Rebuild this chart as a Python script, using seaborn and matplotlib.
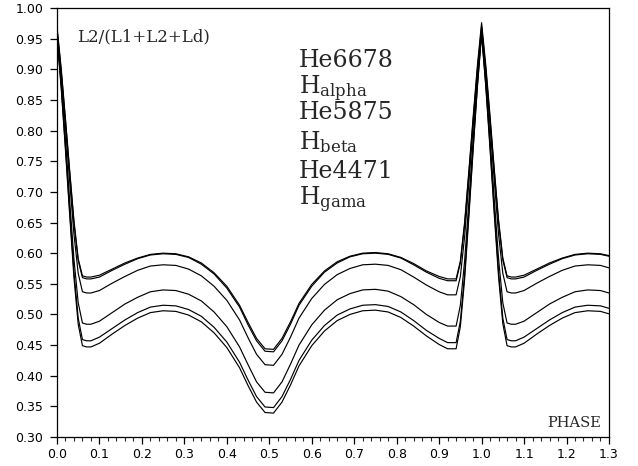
import numpy as np
import pandas as pd
import matplotlib
matplotlib.use("Agg")
import matplotlib.pyplot as plt
from matplotlib.ticker import MultipleLocator, FormatStrFormatter
import seaborn as sns

# Orbital phase samples (denser through the eclipses at phase 0 and 1)
phase = [0.00, 0.01, 0.02, 0.03, 0.04, 0.05, 0.06, 0.07, 0.08, 0.10, 0.13, 0.16,
         0.19, 0.22, 0.25, 0.28, 0.31, 0.34, 0.37, 0.40, 0.43, 0.45, 0.47, 0.49,
         0.51, 0.53, 0.55, 0.57, 0.60, 0.63, 0.66, 0.69, 0.72, 0.75, 0.78, 0.81,
         0.84, 0.87, 0.90, 0.92, 0.94, 0.95, 0.96, 0.97, 0.98, 0.99, 1.00, 1.01,
         1.02, 1.03, 1.04, 1.05, 1.06, 1.07, 1.08, 1.10, 1.13, 1.16, 1.19, 1.22,
         1.25, 1.28, 1.30]

# Fractional light of the secondary, L2/(L1+L2+Ld), per spectral line
he6678 = [0.970, 0.901, 0.819, 0.734, 0.653, 0.591, 0.563, 0.561, 0.561, 0.564, 0.574, 0.584,
          0.592, 0.598, 0.600, 0.599, 0.594, 0.584, 0.568, 0.546, 0.515, 0.487, 0.461, 0.444,
          0.443, 0.461, 0.488, 0.518, 0.549, 0.571, 0.586, 0.595, 0.600, 0.601, 0.599, 0.593,
          0.583, 0.571, 0.562, 0.558, 0.558, 0.587, 0.650, 0.734, 0.821, 0.905, 0.976, 0.906,
          0.823, 0.736, 0.654, 0.592, 0.563, 0.561, 0.561, 0.564, 0.574, 0.584, 0.592, 0.598,
          0.600, 0.599, 0.596]
h_alpha = [0.966, 0.897, 0.816, 0.731, 0.649, 0.588, 0.560, 0.558, 0.558, 0.561, 0.572, 0.582,
           0.591, 0.597, 0.599, 0.598, 0.593, 0.582, 0.566, 0.543, 0.512, 0.483, 0.457, 0.440,
           0.439, 0.457, 0.484, 0.515, 0.546, 0.569, 0.584, 0.594, 0.599, 0.600, 0.598, 0.592,
           0.581, 0.569, 0.559, 0.555, 0.555, 0.584, 0.646, 0.729, 0.816, 0.899, 0.970, 0.900,
           0.818, 0.732, 0.650, 0.589, 0.560, 0.558, 0.558, 0.561, 0.572, 0.582, 0.591, 0.597,
           0.599, 0.598, 0.595]
he5875 = [0.963, 0.891, 0.805, 0.716, 0.631, 0.567, 0.537, 0.535, 0.535, 0.539, 0.551, 0.562,
          0.572, 0.579, 0.581, 0.580, 0.574, 0.563, 0.546, 0.523, 0.491, 0.462, 0.435, 0.418,
          0.417, 0.435, 0.463, 0.494, 0.526, 0.549, 0.565, 0.575, 0.581, 0.582, 0.580, 0.573,
          0.561, 0.548, 0.537, 0.532, 0.532, 0.562, 0.627, 0.714, 0.805, 0.892, 0.966, 0.893,
          0.807, 0.717, 0.631, 0.567, 0.537, 0.535, 0.535, 0.539, 0.551, 0.562, 0.572, 0.579,
          0.581, 0.580, 0.576]
h_beta = [0.960, 0.879, 0.785, 0.685, 0.590, 0.519, 0.486, 0.484, 0.484, 0.489, 0.503, 0.517,
          0.528, 0.537, 0.540, 0.539, 0.533, 0.522, 0.504, 0.480, 0.447, 0.418, 0.390, 0.373,
          0.372, 0.390, 0.419, 0.450, 0.483, 0.507, 0.524, 0.534, 0.540, 0.541, 0.538, 0.529,
          0.516, 0.500, 0.487, 0.481, 0.481, 0.515, 0.587, 0.683, 0.784, 0.880, 0.962, 0.881,
          0.786, 0.686, 0.591, 0.519, 0.486, 0.484, 0.484, 0.489, 0.503, 0.517, 0.528, 0.537,
          0.540, 0.539, 0.535]
he4471 = [0.957, 0.872, 0.773, 0.668, 0.569, 0.494, 0.459, 0.457, 0.457, 0.463, 0.477, 0.491,
          0.503, 0.512, 0.515, 0.514, 0.508, 0.497, 0.479, 0.455, 0.422, 0.393, 0.366, 0.349,
          0.348, 0.366, 0.394, 0.425, 0.458, 0.482, 0.499, 0.509, 0.515, 0.516, 0.513, 0.504,
          0.490, 0.474, 0.461, 0.454, 0.454, 0.489, 0.565, 0.666, 0.772, 0.873, 0.959, 0.874,
          0.774, 0.669, 0.569, 0.494, 0.459, 0.457, 0.457, 0.463, 0.477, 0.491, 0.503, 0.512,
          0.515, 0.514, 0.510]
h_gama = [0.955, 0.869, 0.768, 0.662, 0.560, 0.484, 0.449, 0.447, 0.447, 0.453, 0.468, 0.482,
          0.494, 0.503, 0.506, 0.505, 0.499, 0.488, 0.470, 0.446, 0.413, 0.384, 0.357, 0.340,
          0.339, 0.357, 0.385, 0.416, 0.449, 0.473, 0.490, 0.500, 0.506, 0.507, 0.504, 0.495,
          0.481, 0.465, 0.451, 0.444, 0.444, 0.480, 0.557, 0.659, 0.767, 0.870, 0.957, 0.871,
          0.769, 0.662, 0.561, 0.485, 0.449, 0.447, 0.447, 0.453, 0.468, 0.482, 0.494, 0.503,
          0.506, 0.505, 0.501]

line_names = ["He6678", "H_alpha", "He5875", "H_beta", "He4471", "H_gama"]
line_labels = ["He6678", r"H$_{\mathrm{alpha}}$", "He5875", r"H$_{\mathrm{beta}}$",
               "He4471", r"H$_{\mathrm{gama}}$"]
series = [he6678, h_alpha, he5875, h_beta, he4471, h_gama]

df = pd.concat(
    [pd.DataFrame({"phase": phase, "frac": vals, "line": name})
     for name, vals in zip(line_names, series)],
    ignore_index=True,
)

sns.set_style("ticks")
plt.rcParams["mathtext.fontset"] = "dejavuserif"

fig = plt.figure(figsize=(6.38, 4.66), dpi=100)
ax = fig.add_axes([0.0893, 0.0622, 0.8652, 0.9206])

sns.lineplot(data=df, x="phase", y="frac", hue="line", hue_order=line_names,
             palette=["black"] * 6, legend=False, sort=False, linewidth=0.85, ax=ax)

ax.set_xlim(0.0, 1.3)
ax.set_ylim(0.30, 1.00)
ax.xaxis.set_major_locator(MultipleLocator(0.1))
ax.xaxis.set_minor_locator(MultipleLocator(0.02))
ax.yaxis.set_major_locator(MultipleLocator(0.05))
ax.xaxis.set_major_formatter(FormatStrFormatter("%.1f"))
ax.yaxis.set_major_formatter(FormatStrFormatter("%.2f"))
ax.set_xlabel("")
ax.set_ylabel("")

for side in ["left", "right", "top", "bottom"]:
    ax.spines[side].set_visible(True)
    ax.spines[side].set_linewidth(0.9)
    ax.spines[side].set_color("black")

ax.tick_params(axis="x", which="major", direction="out", length=5, width=0.9,
               labelsize=9, pad=3, colors="black", top=False)
ax.tick_params(axis="x", which="minor", direction="out", length=3, width=0.8,
               top=False)
ax.tick_params(axis="y", which="major", direction="out", length=5, width=0.9,
               labelsize=9, pad=5, colors="black", right=False)

serif = ["DejaVu Serif"]
ax.text(0.036, 0.923, "L2/(L1+L2+Ld)", transform=ax.transAxes, fontsize=12,
        family=serif, va="baseline", ha="left")
ax.text(0.9855, 0.023, "PHASE", transform=ax.transAxes, fontsize=10.5,
        family=serif, va="baseline", ha="right")

label_y = [0.863, 0.7995, 0.7405, 0.670, 0.6045, 0.541]
for lab, yy in zip(line_labels, label_y):
    ax.text(0.438, yy, lab, transform=ax.transAxes, fontsize=17, family=serif,
            va="baseline", ha="left")

fig.savefig("out.png", dpi=100)
